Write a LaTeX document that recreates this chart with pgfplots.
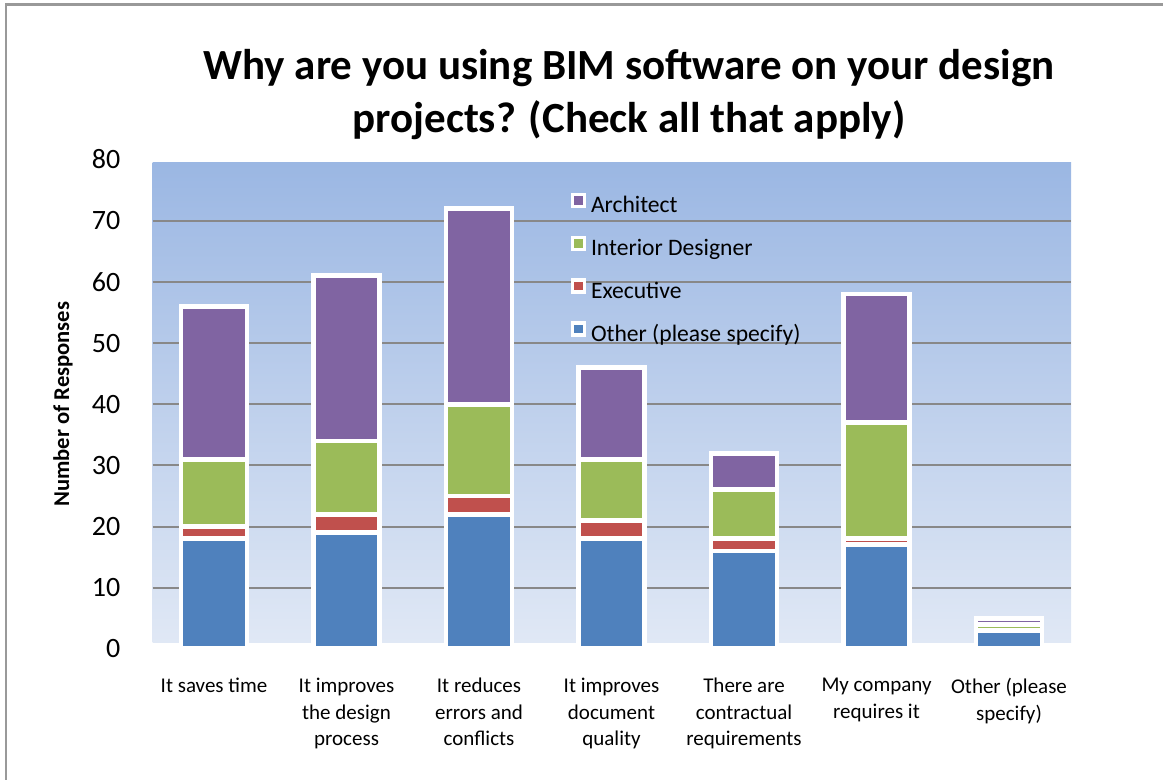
\documentclass[border=0pt]{standalone}
\usepackage{fontspec}
\setmainfont{Carlito}
\usepackage{pgfplots}
\pgfplotsset{compat=1.18}
\definecolor{oth}{HTML}{4F81BD}
\definecolor{exe}{HTML}{C0504D}
\definecolor{int}{HTML}{9BBB59}
\definecolor{arc}{HTML}{8064A2}
\definecolor{bgtop}{HTML}{9BB7E3}
\definecolor{bgbot}{HTML}{E0E8F5}
\definecolor{gridc}{HTML}{888888}

\begin{document}
\begin{tikzpicture}
\useasboundingbox (0,0) rectangle (581.5pt,390pt);
\draw[gray!80,line width=1.2pt] (3pt,0) -- (3pt,387.8pt) -- (581.5pt,387.8pt);
% plot area fill, slightly shorter than the axis as in the original
\fill[top color=bgtop,bottom color=bgbot] (76.35pt,68.5pt) rectangle (535.5pt,308.65pt);
\node[font=\fontsize{21.5}{26}\selectfont\bfseries,anchor=base,inner sep=0pt] at (314.5pt,350pt) {Why are you using BIM software on your design};
\node[font=\fontsize{21.5}{26}\selectfont\bfseries,anchor=base,inner sep=0pt] at (314.5pt,323.5pt) {projects? (Check all that apply)};
\begin{axis}[at={(76.35pt,65.55pt)},anchor=south west,scale only axis,width=459.15pt,height=244.7pt,
  ybar stacked,bar width=33pt,
  xmin=-0.463,xmax=6.468,ymin=0,ymax=80,
  axis line style={draw=none},major tick length=0pt,
  ytick={0,10,...,80},
  extra y ticks={10,20,...,70},extra y tick labels={},
  extra y tick style={grid=major,major grid style={gridc,line width=1pt}},
  /pgf/number format/assume math mode=true,
  yticklabel style={font=\fontsize{14}{16}\selectfont,inner sep=0pt,xshift=-16pt},
  xtick={0,...,6},
  xticklabels={It saves time,It improves\\the design\\process,It reduces\\errors and\\conflicts,It improves\\document\\quality,There are\\contractual\\requirements,My company\\requires it,Other (please\\specify)},
  xticklabel style={font=\fontsize{10.5}{13.25}\selectfont,align=center,anchor=north,inner sep=0pt,yshift=-14.5pt},
  ylabel={Number of Responses},
  every axis y label/.style={at={(axis description cs:0,0.5)},rotate=90,anchor=center,yshift=44.85pt,font=\fontsize{11.3}{13}\selectfont\bfseries},
  legend style={at={(0.448,0.941)},anchor=north west,draw=none,fill=none,font=\fontsize{11.8}{14}\selectfont,
    row sep=8.55pt,column sep=2.5pt,nodes={inner sep=0pt,text height=9pt,text depth=3pt}},
  legend cell align=left,reverse legend,
  legend image code/.code={\draw[#1,line width=1.75pt] (0pt,0pt) rectangle (6pt,6pt);}]
\addplot[fill=oth,draw=white,line width=2.4pt] coordinates {(0,18) (1,19) (2,22) (3,18) (4,16) (5,17) (6,3)};
\addplot[fill=exe,draw=white,line width=2.4pt] coordinates {(0,2) (1,3) (2,3) (3,3) (4,2) (5,1) (6,0)};
\addplot[fill=int,draw=white,line width=2.4pt] coordinates {(0,11) (1,12) (2,15) (3,10) (4,8) (5,19) (6,1)};
\addplot[fill=arc,draw=white,line width=2.4pt] coordinates {(0,25) (1,27) (2,32) (3,15) (4,6) (5,21) (6,1)};
\legend{Other (please specify),Executive,Interior Designer,Architect}
\end{axis}
\end{tikzpicture}
\end{document}
